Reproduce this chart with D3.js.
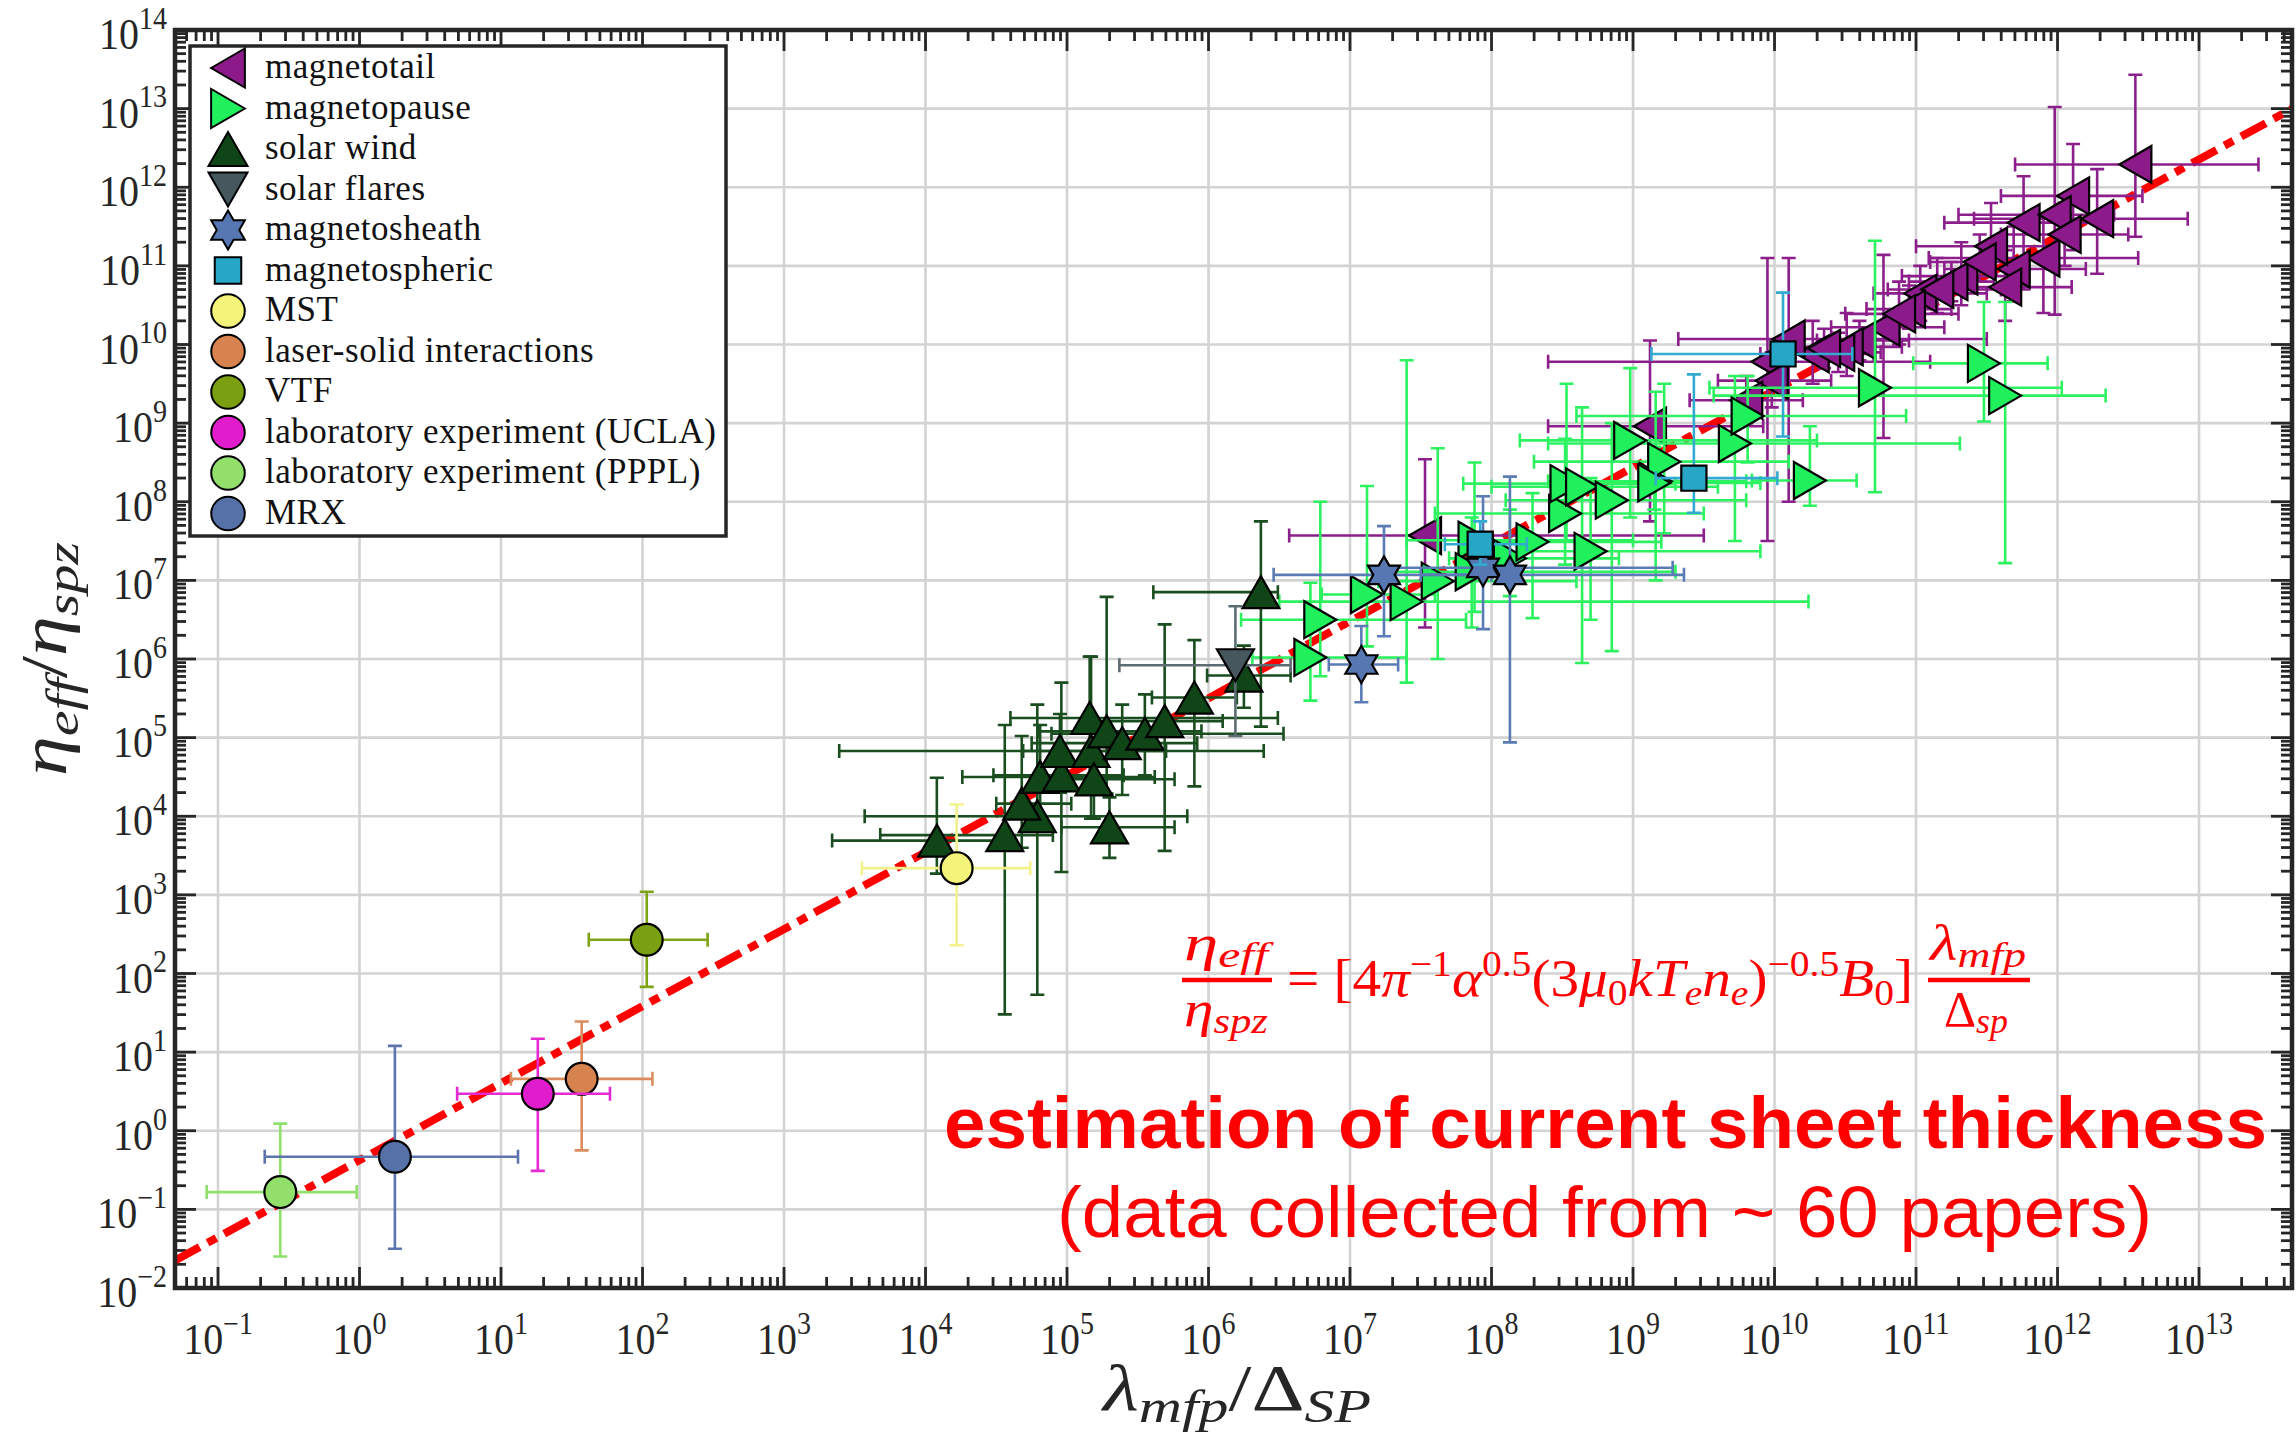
<!DOCTYPE html>
<html>
<head>
<meta charset="utf-8">
<script src="https://cdn.jsdelivr.net/npm/d3@7/dist/d3.min.js"></script>
<style>
  html, body { margin: 0; padding: 0; background: #ffffff; }
  svg { display: block; }
</style>
</head>
<body>
<svg id="chart" width="2296" height="1440"></svg>
<script>
// Compilation of current-sheet measurements: effective resistivity enhancement
// eta_eff / eta_spz against lambda_mfp / Delta_SP.
// Every row: [x, y, xLow, xHigh, yLow, yHigh], given as log10 (orders of magnitude).

const magnetotail = [
  [12.55, 12.29, 11.70, 13.42, 11.37, 13.43],
  [12.11, 11.89, 11.60, 12.60, 11.20, 12.55],
  [12.28, 11.60, 11.41, 12.92, 10.90, 12.23],
  [11.76, 11.55, 11.20, 12.30, 10.70, 12.14],
  [11.98, 11.65, 11.30, 12.40, 10.38, 13.02],
  [11.90, 11.10, 11.09, 12.57, 10.40, 11.60],
  [11.69, 10.96, 11.20, 12.20, 10.55, 11.50],
  [11.63, 10.73, 11.20, 12.10, 10.30, 11.20],
  [11.53, 11.25, 11.00, 12.00, 10.90, 11.80],
  [11.32, 10.87, 10.90, 11.80, 10.50, 11.30],
  [11.25, 10.80, 10.95, 11.55, 10.55, 11.05],
  [11.03, 10.65, 10.70, 11.50, 10.30, 11.00],
  [11.15, 10.70, 10.80, 11.60, 10.40, 11.10],
  [10.95, 10.45, 10.65, 11.25, 10.20, 10.75],
  [10.77, 10.22, 10.40, 11.20, 8.81, 11.14],
  [10.88, 10.39, 10.50, 11.30, 10.00, 10.80],
  [10.60, 10.05, 10.30, 10.95, 9.80, 10.30],
  [10.51, 9.97, 10.20, 10.90, 9.60, 10.40],
  [10.45, 9.90, 10.15, 10.75, 9.65, 10.15],
  [10.27, 9.88, 9.90, 10.70, 9.50, 10.30],
  [10.35, 9.95, 10.00, 10.70, 9.70, 10.20],
  [10.10, 10.07, 9.32, 11.50, 8.00, 11.10],
  [9.95, 9.78, 8.40, 11.10, 7.50, 11.10],
  [9.98, 9.54, 9.60, 10.40, 9.20, 9.90],
  [9.80, 9.29, 9.40, 10.20, 9.00, 9.60],
  [11.45, 11.05, 11.10, 11.80, 10.80, 11.40],
  [12.05, 11.40, 11.60, 12.50, 11.00, 11.80],
  [9.12, 8.96, 8.40, 9.92, 7.75, 10.05],
  [7.53, 7.57, 6.57, 9.50, 6.40, 8.54]
];

const magnetopause = [
  [6.72, 6.02, 6.31, 7.40, 5.47, 6.97],
  [6.79, 6.50, 6.23, 7.82, 5.78, 8.00],
  [7.12, 6.82, 6.80, 7.60, 6.16, 8.20],
  [7.40, 6.73, 6.50, 10.24, 5.70, 9.80],
  [7.62, 6.99, 7.20, 8.60, 6.00, 8.68],
  [7.88, 7.51, 7.40, 9.00, 6.60, 8.50],
  [7.86, 7.11, 7.30, 9.30, 6.40, 7.80],
  [8.13, 7.28, 7.70, 8.90, 6.80, 7.90],
  [8.29, 7.49, 7.80, 9.20, 6.52, 8.11],
  [8.52, 7.85, 7.60, 9.50, 7.20, 8.80],
  [8.53, 8.23, 7.80, 9.30, 7.50, 9.50],
  [8.64, 8.19, 8.00, 9.60, 5.95, 9.20],
  [8.85, 8.02, 8.10, 9.80, 6.10, 9.00],
  [8.70, 7.37, 8.20, 9.90, 6.50, 8.30],
  [9.16, 8.26, 8.40, 9.80, 7.00, 9.40],
  [8.98, 8.78, 8.20, 10.30, 7.80, 9.70],
  [9.22, 8.51, 8.30, 10.10, 7.60, 9.50],
  [9.15, 8.24, 8.50, 9.90, 7.90, 8.70],
  [9.72, 8.74, 8.40, 11.31, 7.50, 9.60],
  [9.81, 9.09, 8.60, 10.93, 8.50, 9.60],
  [10.25, 8.27, 9.84, 10.58, 7.95, 8.96],
  [10.71, 9.45, 9.54, 12.03, 8.12, 11.32],
  [11.48, 9.76, 10.98, 11.93, 9.02, 10.54],
  [11.63, 9.35, 9.57, 12.34, 7.22, 10.54]
];

const solarWind = [
  [4.08, 3.69, 3.34, 4.60, 3.27, 4.49],
  [4.56, 3.76, 3.68, 4.90, 1.48, 5.16],
  [4.79, 4.00, 3.57, 5.85, 1.73, 5.42],
  [4.68, 4.16, 4.50, 5.03, 3.60, 5.02],
  [4.81, 4.50, 4.26, 5.62, 3.90, 5.16],
  [4.96, 4.52, 4.48, 5.40, 3.29, 5.70],
  [4.95, 4.83, 3.39, 5.70, 4.30, 5.30],
  [5.17, 4.83, 4.69, 6.39, 3.97, 6.03],
  [5.19, 4.47, 4.96, 5.76, 3.97, 4.65],
  [5.16, 5.25, 4.60, 6.49, 4.40, 6.03],
  [5.30, 3.86, 4.96, 5.76, 3.47, 4.24],
  [5.28, 5.08, 4.80, 5.95, 4.29, 6.79],
  [5.39, 4.93, 4.75, 5.92, 4.27, 5.42],
  [5.55, 5.05, 4.89, 6.53, 4.52, 5.55],
  [5.69, 5.21, 5.20, 6.10, 3.56, 6.44],
  [5.90, 5.51, 5.60, 6.20, 4.38, 6.24],
  [6.25, 5.79, 5.99, 6.58, 5.38, 6.17],
  [6.37, 6.85, 5.61, 6.49, 5.14, 7.75]
];

const solarFlares = [
  [6.19, 5.92, 5.37, 6.58, 5.02, 6.67]
];

const magnetosheath = [
  [7.08, 5.93, 6.85, 7.34, 5.45, 6.42],
  [7.24, 7.07, 6.46, 8.00, 6.29, 7.69],
  [7.94, 7.16, 7.25, 9.28, 6.38, 8.07],
  [8.13, 7.07, 7.50, 9.36, 4.94, 8.32]
];

const magnetospheric = [
  [7.92, 7.46, 7.67, 8.25, 7.20, 7.75],
  [9.43, 8.30, 9.16, 10.02, 7.86, 9.62],
  [10.06, 9.88, 9.13, 10.55, 8.83, 10.66]
];

const mst = [[4.22, 3.34, 3.55, 4.74, 2.36, 4.15]];
const laserSolid = [[1.57, 0.66, 1.07, 2.07, -0.25, 1.39]];
const vtf = [[2.03, 2.43, 1.62, 2.46, 1.83, 3.04]];
const ucla = [[1.26, 0.47, 0.69, 1.77, -0.51, 1.17]];
const pppl = [[-0.56, -0.78, -1.08, -0.02, -1.60, 0.09]];
const mrx = [[0.25, -0.33, -0.67, 1.12, -1.50, 1.08]];

// Power-law fit, end points in data units
const fitLine = [[0.0497, 0.0224], [4.54e13, 9.93e12]];

const xTickExps = d3.range(-1, 14);
const yTickExps = d3.range(-2, 15);

const seriesNames = ["magnetotail", "magnetopause", "solar wind", "solar flares", "magnetosheath",
  "magnetospheric", "MST", "laser-solid interactions", "VTF",
  "laboratory experiment (UCLA)", "laboratory experiment (PPPL)", "MRX"];
const seriesRows = [magnetotail, magnetopause, solarWind, solarFlares, magnetosheath,
  magnetospheric, mst, laserSolid, vtf, ucla, pppl, mrx];
const seriesShapes = ["left", "right", "up", "down", "hexagram", "square",
  "circle", "circle", "circle", "circle", "circle", "circle"];
const seriesFill = ["#8c1a8a", "#1ff05c", "#0f4517", "#46585d", "#5677b1", "#27a6c6",
  "#f4f47a", "#d6834f", "#7aa012", "#e11ccd", "#92df6b", "#5670a8"];
const seriesBar = ["#8c1f8c", "#2cf260", "#1a4d1f", "#5d6c72", "#5b7bb5", "#33aad0",
  "#f2f28c", "#dc8c5c", "#7ea416", "#e52ad4", "#90e06e", "#5d74ae"];

// ---------------------------------------------------------------------------
const svg = d3.select("#chart");
const plot = { left: 175, right: 2292, top: 30, bottom: 1288 };
const x = d3.scaleLog().domain([Math.pow(10, -1.304), Math.pow(10, 13.657)]).range([plot.left, plot.right]);
const y = d3.scaleLog().domain([1e-2, 1e14]).range([plot.bottom, plot.top]);
const dec = v => Math.pow(10, v);

const axisColor = "#262626";
const serif = "'Liberation Serif', 'Times New Roman', serif";
const textStretch = 1.12;

svg.append("rect").attr("width", 2296).attr("height", 1440).attr("fill", "#fff");

svg.append("clipPath").attr("id", "plotClip").append("rect")
  .attr("x", plot.left).attr("y", plot.top)
  .attr("width", plot.right - plot.left).attr("height", plot.bottom - plot.top);

// grid
const grid = svg.append("g").attr("stroke", "#d3d3d3").attr("stroke-width", 2.6);
xTickExps.forEach(e => grid.append("line")
  .attr("x1", x(dec(e))).attr("x2", x(dec(e))).attr("y1", plot.top).attr("y2", plot.bottom));
yTickExps.forEach(e => grid.append("line")
  .attr("y1", y(dec(e))).attr("y2", y(dec(e))).attr("x1", plot.left).attr("x2", plot.right));

// ticks on all four sides, pointing inward
const ticks = svg.append("g").attr("stroke", axisColor).attr("stroke-width", 2.8);
const majorLen = 21, minorLen = 11;
function minorValues(scale) {
  const [a, b] = scale.domain();
  const out = [];
  for (let e = Math.floor(Math.log10(a)); e <= Math.ceil(Math.log10(b)); e++) {
    for (let k = 2; k <= 9; k++) {
      const v = k * dec(e);
      if (v > a && v < b) out.push(v);
    }
  }
  return out;
}
function xTick(v, len) {
  const px = x(v);
  ticks.append("line").attr("x1", px).attr("x2", px).attr("y1", plot.bottom).attr("y2", plot.bottom - len);
  ticks.append("line").attr("x1", px).attr("x2", px).attr("y1", plot.top).attr("y2", plot.top + len);
}
function yTick(v, len) {
  const py = y(v);
  ticks.append("line").attr("y1", py).attr("y2", py).attr("x1", plot.left).attr("x2", plot.left + len);
  ticks.append("line").attr("y1", py).attr("y2", py).attr("x1", plot.right).attr("x2", plot.right - len);
}
xTickExps.forEach(e => xTick(dec(e), majorLen));
minorValues(x).forEach(v => xTick(v, minorLen));
yTickExps.forEach(e => yTick(dec(e), majorLen));
minorValues(y).forEach(v => yTick(v, minorLen));

// tick labels of the form 10^n
function powerLabel(px, py, exp, anchor) {
  const t = svg.append("text")
    .attr("transform", `translate(${px},${py}) scale(1,${textStretch})`)
    .attr("text-anchor", anchor)
    .attr("font-family", serif).attr("font-size", 40).attr("fill", "#262626");
  t.append("tspan").text("10");
  t.append("tspan").attr("dy", -18).attr("font-size", 28).text(String(exp).replace("-", "\u2212"));
}
xTickExps.forEach(e => powerLabel(x(dec(e)), 1354, e, "middle"));
yTickExps.forEach(e => powerLabel(167, y(dec(e)) + 19, e, "end"));

// fitted power law
svg.append("line")
  .attr("clip-path", "url(#plotClip)")
  .attr("x1", x(fitLine[0][0])).attr("y1", y(fitLine[0][1]))
  .attr("x2", x(fitLine[1][0])).attr("y2", y(fitLine[1][1]))
  .attr("stroke", "#ff0000").attr("stroke-width", 8)
  .attr("stroke-dasharray", "28 9 10 9");

// marker outlines
function markerPath(shape, s) {
  const h = s * 0.866;
  switch (shape) {
    case "left": return `M${-h / 2},0L${h / 2},${-s / 2}L${h / 2},${s / 2}Z`;
    case "right": return `M${h / 2},0L${-h / 2},${-s / 2}L${-h / 2},${s / 2}Z`;
    case "up": return `M0,${-h / 2}L${s / 2},${h / 2}L${-s / 2},${h / 2}Z`;
    case "down": return `M0,${h / 2}L${s / 2},${-h / 2}L${-s / 2},${-h / 2}Z`;
    case "square": { const a = s * 0.34; return `M${-a},${-a}H${a}V${a}H${-a}Z`; }
    case "circle": { const r = s * 0.43; return `M${r},0A${r},${r} 0 1,1 ${-r},0A${r},${r} 0 1,1 ${r},0Z`; }
    case "hexagram": {
      const R = s * 0.5, r = R / Math.sqrt(3);
      const pts = d3.range(12).map(i => {
        const ang = -Math.PI / 2 + i * Math.PI / 6;
        const rr = i % 2 === 0 ? R : r;
        return [rr * Math.cos(ang), rr * Math.sin(ang)];
      });
      return "M" + pts.map(p => p.join(",")).join("L") + "Z";
    }
  }
}

// data: error bars then markers, series by series
const data = svg.append("g").attr("clip-path", "url(#plotClip)");
const cap = 7;
seriesRows.forEach((rows, si) => {
  const g = data.append("g");
  const bars = g.append("g").attr("stroke", seriesBar[si]).attr("stroke-width", 2.6).attr("fill", "none");
  rows.forEach(r => {
    const cx = x(dec(r[0])), cy = y(dec(r[1]));
    const x0 = x(dec(r[2])), x1 = x(dec(r[3]));
    const y0 = y(dec(r[4])), y1 = y(dec(r[5]));
    bars.append("path").attr("d",
      `M${x0},${cy}H${x1}M${x0},${cy - cap}V${cy + cap}M${x1},${cy - cap}V${cy + cap}` +
      `M${cx},${y0}V${y1}M${cx - cap},${y0}H${cx + cap}M${cx - cap},${y1}H${cx + cap}`);
  });
  g.append("g").selectAll("path").data(rows).join("path")
    .attr("transform", r => `translate(${x(dec(r[0]))},${y(dec(r[1]))})`)
    .attr("d", markerPath(seriesShapes[si], 37))
    .attr("fill", seriesFill[si]).attr("stroke", "#000").attr("stroke-width", 2.2)
    .attr("stroke-linejoin", "miter");
});

// frame
svg.append("rect")
  .attr("x", plot.left).attr("y", plot.top)
  .attr("width", plot.right - plot.left).attr("height", plot.bottom - plot.top)
  .attr("fill", "none").attr("stroke", axisColor).attr("stroke-width", 4.5);

// legend
const legend = svg.append("g");
legend.append("rect").attr("x", 190).attr("y", 46).attr("width", 536).attr("height", 490)
  .attr("fill", "#fff").attr("stroke", axisColor).attr("stroke-width", 3.5);
seriesNames.forEach((name, i) => {
  const cy = 68 + i * 40.5;
  legend.append("path").attr("transform", `translate(228,${cy})`)
    .attr("d", markerPath(seriesShapes[i], 39))
    .attr("fill", seriesFill[i]).attr("stroke", "#000").attr("stroke-width", 2);
  legend.append("text")
    .attr("x", 265).attr("y", cy + 10)
    .attr("font-family", serif).attr("font-size", 35).attr("letter-spacing", 0.5)
    .attr("fill", "#111")
    .text(name);
});

// axis titles
const xt = svg.append("text")
  .attr("transform", `translate(1237,1410) scale(1,${textStretch})`)
  .attr("text-anchor", "middle").attr("font-family", serif).attr("font-size", 58).attr("fill", "#262626")
  .attr("textLength", 268).attr("lengthAdjust", "spacingAndGlyphs");
xt.append("tspan").attr("font-style", "italic").text("λ");
xt.append("tspan").attr("font-style", "italic").attr("font-size", 42).attr("dy", 11).text("mfp");
xt.append("tspan").attr("dy", -11).text("/Δ");
xt.append("tspan").attr("font-style", "italic").attr("font-size", 42).attr("dy", 11).text("SP");

const yt = svg.append("text")
  .attr("transform", `translate(66,659) rotate(-90) scale(1,${textStretch})`)
  .attr("text-anchor", "middle").attr("font-family", serif).attr("font-size", 58).attr("fill", "#262626")
  .attr("textLength", 234).attr("lengthAdjust", "spacingAndGlyphs");
yt.append("tspan").attr("font-style", "italic").text("η");
yt.append("tspan").attr("font-style", "italic").attr("font-size", 42).attr("dy", 11).text("eff");
yt.append("tspan").attr("dy", -11).text("/");
yt.append("tspan").attr("font-style", "italic").text("η");
yt.append("tspan").attr("font-style", "italic").attr("font-size", 42).attr("dy", 11).text("spz");

// scaling law annotation
const red = "#ff0000";
const fm = svg.append("g").attr("fill", red).attr("font-family", serif);
function frac(x0, width, numMain, numSub, numLen, denMain, denSub, denItalic, denX, denLen) {
  fm.append("line").attr("x1", x0).attr("x2", x0 + width).attr("y1", 980).attr("y2", 980)
    .attr("stroke", red).attr("stroke-width", 4.5);
  const n = fm.append("text").attr("x", x0 + 2).attr("y", 960).attr("font-size", 50)
    .attr("textLength", numLen).attr("lengthAdjust", "spacingAndGlyphs");
  n.append("tspan").attr("font-style", "italic").text(numMain);
  n.append("tspan").attr("font-style", "italic").attr("font-size", 36).attr("dy", 7).text(numSub);
  const d = fm.append("text").attr("x", denX).attr("y", 1026).attr("font-size", 50)
    .attr("textLength", denLen).attr("lengthAdjust", "spacingAndGlyphs");
  d.append("tspan").attr("font-style", denItalic ? "italic" : "normal").text(denMain);
  d.append("tspan").attr("font-style", "italic").attr("font-size", 36).attr("dy", 7).text(denSub);
}
frac(1182, 90, "η", "eff", 84, "η", "spz", true, 1184, 84);
frac(1928, 102, "λ", "mfp", 96, "Δ", "sp", false, 1944, 64);

const mid = fm.append("text").attr("x", 1287).attr("y", 996).attr("font-size", 52)
  .attr("textLength", 626).attr("lengthAdjust", "spacingAndGlyphs");
const part = (txt, opt = {}) => {
  const t = mid.append("tspan").text(txt);
  if (opt.it) t.attr("font-style", "italic");
  if (opt.size) t.attr("font-size", opt.size);
  if (opt.dy) t.attr("dy", opt.dy);
  return t;
};
part("= [4");
part("π", { it: true });
part("−1", { size: 36, dy: -20 });
part("α", { it: true, dy: 20 });
part("0.5", { size: 36, dy: -20 });
part("(3", { dy: 20 });
part("μ", { it: true });
part("0", { size: 36, dy: 9 });
part("kT", { it: true, dy: -9 });
part("e", { it: true, size: 36, dy: 9 });
part("n", { it: true, dy: -9 });
part("e", { it: true, size: 36, dy: 9 });
part(")", { dy: -9 });
part("−0.5", { size: 36, dy: -20 });
part("B", { it: true, dy: 20 });
part("0", { size: 36, dy: 9 });
part("]", { dy: -9 });

svg.append("text").attr("x", 944).attr("y", 1148)
  .attr("font-family", "'Liberation Sans', Arial, sans-serif").attr("font-weight", "bold")
  .attr("font-size", 72).attr("fill", red)
  .attr("textLength", 1323).attr("lengthAdjust", "spacingAndGlyphs")
  .text("estimation of current sheet thickness");
svg.append("text").attr("x", 1057).attr("y", 1237)
  .attr("font-family", "'Liberation Sans', Arial, sans-serif")
  .attr("font-size", 72).attr("fill", red)
  .attr("textLength", 1095).attr("lengthAdjust", "spacingAndGlyphs")
  .text("(data collected from ~ 60 papers)");
</script>
</body>
</html>
